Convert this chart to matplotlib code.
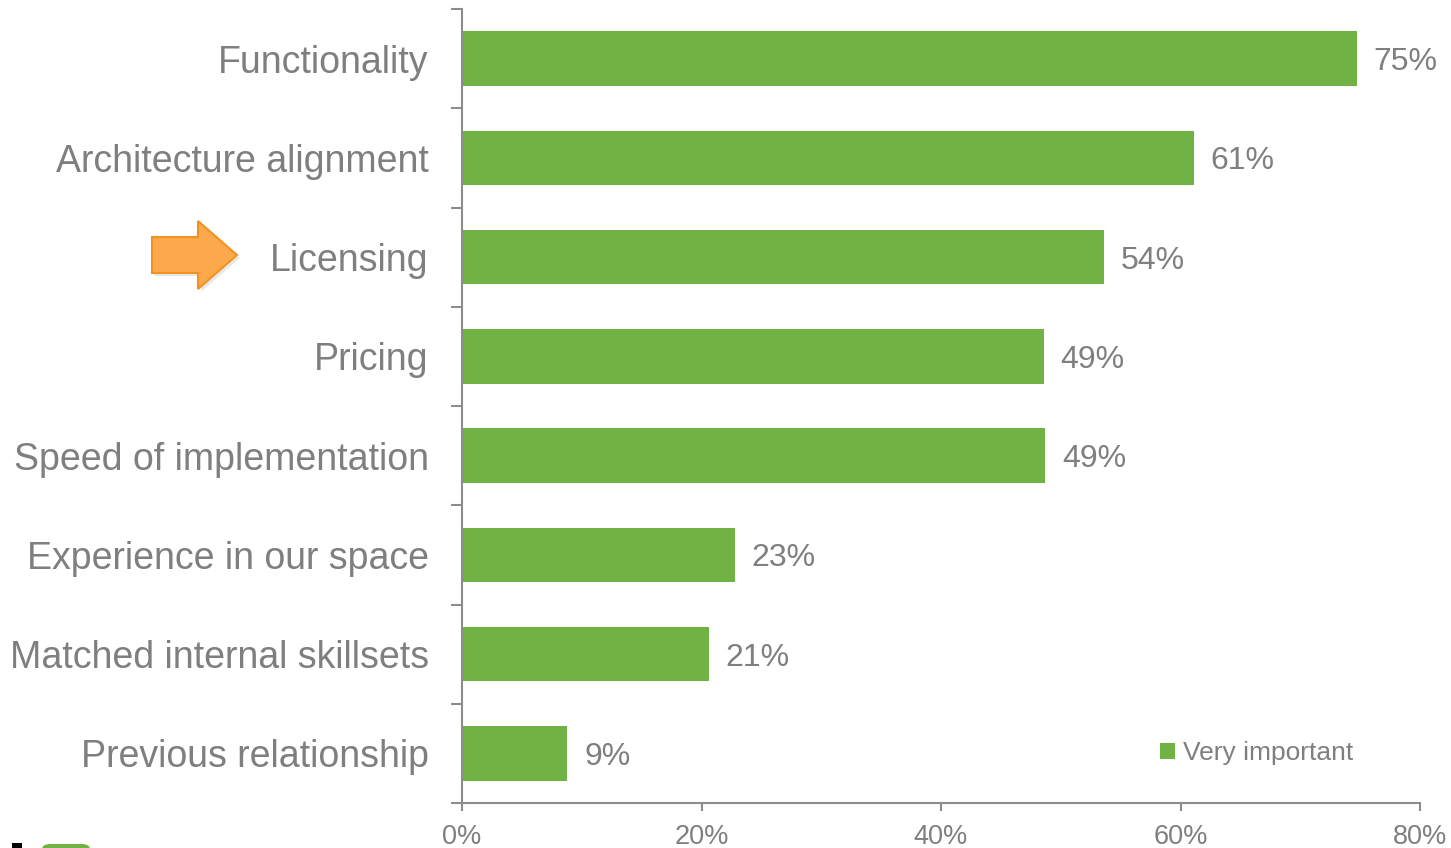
import matplotlib
matplotlib.use('Agg')
import matplotlib.pyplot as plt
from matplotlib.patches import Polygon, FancyBboxPatch, Rectangle
import numpy as np

categories = ['Functionality', 'Architecture alignment', 'Licensing', 'Pricing',
              'Speed of implementation', 'Experience in our space',
              'Matched internal skillsets', 'Previous relationship']
very_important = [74.7, 61.1, 53.6, 48.6, 48.7, 22.8, 20.6, 8.8]
x_ticks = [0, 20, 40, 60, 80]

green = '#70B244'
grey_text = '#7F7F7F'
grey_axis = '#8C8C8C'

plt.rcParams['font.family'] = ['Liberation Sans', 'DejaVu Sans']

fig = plt.figure(figsize=(14.51, 8.48), dpi=100)
ax = fig.add_axes([462 / 1451, 1 - 803 / 848, 958 / 1451, 794 / 848])

y = np.arange(len(categories))
ax.barh(y, very_important, height=0.55, color=green, label='Very important')
for yi, v in zip(y, very_important):
    ax.annotate(f'{v:.0f}%', (v, yi), xytext=(12, -2.5), textcoords='offset points',
                va='center', ha='left', fontsize=23, color=grey_text)

ax.set_xlim(0, 80)
ax.set_ylim(len(categories) - 0.5, -0.5)
ax.set_xticks(x_ticks)
ax.set_xticklabels([f'{t}%' for t in x_ticks], fontsize=19.5, color=grey_text)
ax.set_yticks(y)
ax.set_yticklabels(categories, fontsize=27, color=grey_text)
ax.set_yticks(np.arange(len(categories) + 1) - 0.5, minor=True)

ax.tick_params(axis='y', which='major', length=0, pad=24)
ax.tick_params(axis='y', which='minor', length=8, width=1.5, color=grey_axis, direction='out')
ax.tick_params(axis='x', which='major', length=6, width=1.5, color=grey_axis, direction='out', pad=9)

for s in ['top', 'right']:
    ax.spines[s].set_visible(False)
for s in ['left', 'bottom']:
    ax.spines[s].set_color(grey_axis)
    ax.spines[s].set_linewidth(1.5)

leg = ax.legend(loc='lower right', bbox_to_anchor=(0.955, 0.018), frameon=False,
                fontsize=19, handlelength=0.55, handleheight=0.55, handletextpad=0.3)
for t in leg.get_texts():
    t.set_color(grey_text)

# orange arrow pointing at "Licensing"
def px(xp, yp):
    return (xp / 1451, 1 - yp / 848)

shadow = [(155, 240), (201, 240), (201, 224), (240, 258), (201, 292), (201, 276), (155, 276)]
arrow = [(152, 237), (198, 237), (198, 221), (237, 255), (198, 289), (198, 273), (152, 273)]
fig.patches.append(Polygon([px(*p) for p in shadow], closed=True, transform=fig.transFigure,
                           facecolor='#D9D9D9', edgecolor='none', alpha=0.6))
fig.patches.append(Polygon([px(*p) for p in arrow], closed=True, transform=fig.transFigure,
                           facecolor='#FBA94A', edgecolor='#F29222', linewidth=1.5))

# cut-off logo at the bottom-left corner
fig.patches.append(Rectangle(px(12, 848), 10 / 1451, 5 / 848, transform=fig.transFigure,
                             facecolor='black', edgecolor='none'))
fig.patches.append(FancyBboxPatch(px(42, 856), 48 / 1451, 12 / 848, boxstyle='round,pad=0,rounding_size=0.006',
                                  transform=fig.transFigure, facecolor=green, edgecolor='none'))

fig.savefig('out.png', dpi=100)
